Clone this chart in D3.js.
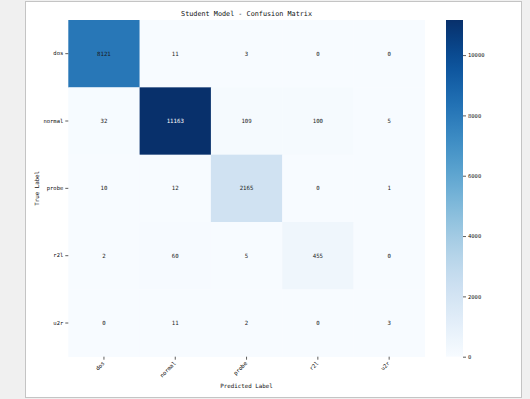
<!DOCTYPE html>
<html>
<head>
<meta charset="utf-8">
<script src="https://cdn.jsdelivr.net/npm/d3@7"></script>
<style>
  html, body { margin: 0; padding: 0; background: #f0f0f0; }
  svg { display: block; }
  text { font-family: "DejaVu Sans Mono", "Liberation Mono", monospace; fill: #111; }
  .axis path { display: none; }
  .axis line { stroke: #333; stroke-width: 0.8; }
  .axis text { font-size: 5.5px; fill: #111; }
  .annot { font-size: 5.7px; }
  .title { font-size: 6.8px; }
  .axis-label { font-size: 5.8px; }
</style>
</head>
<body>
<svg width="530" height="399"></svg>
<script>
const classes = ['dos', 'normal', 'probe', 'r2l', 'u2r']
    , matrix =
        [ [8121, 11, 3, 0, 0]
        , [32, 11163, 109, 100, 5]
        , [10, 12, 2165, 0, 1]
        , [2, 60, 5, 455, 0]
        , [0, 11, 2, 0, 3]
        ]
    , colorTicks = [0, 2000, 4000, 6000, 8000, 10000]
    , titleText = 'Student Model - Confusion Matrix'
    , xLabelText = 'Predicted Label'
    , yLabelText = 'True Label'

const plotLeft = 68.3
    , plotRight = 424.8
    , plotTop = 20
    , plotBottom = 356.7
    , barLeft = 446
    , barWidth = 17
    , maxValue = d3.max(matrix.flat())
    , scaleX = d3.scaleBand().domain(classes).range([plotLeft, plotRight])
    , scaleY = d3.scaleBand().domain(classes).range([plotTop, plotBottom])
    , color = d3.scaleSequential(d3.interpolateBlues).domain([0, maxValue])
    , scaleBar = d3.scaleLinear().domain([0, maxValue]).range([plotBottom, plotTop])
    , svg = d3.select('svg')

// figure frame
svg.append('rect')
    .attr('x', 25.5).attr('y', 1.5)
    .attr('width', 496).attr('height', 396)
    .attr('fill', '#fff')
    .attr('stroke', '#c4c4c4')
    .attr('stroke-width', 1)

const cells = matrix.flatMap((row, i) =>
    row.map((v, j) => ({ t: classes[i], p: classes[j], v })))

svg.selectAll('rect.cell')
    .data(cells)
    .join('rect')
    .attr('class', 'cell')
    .attr('x', d => scaleX(d.p))
    .attr('y', d => scaleY(d.t))
    .attr('width', scaleX.bandwidth() + 0.3)
    .attr('height', scaleY.bandwidth() + 0.3)
    .attr('fill', d => color(d.v))

const isDark = v => {
    const c = d3.rgb(color(v))
    const lum = (0.2126 * c.r + 0.7152 * c.g + 0.0722 * c.b) / 255
    return lum < 0.408
}

svg.selectAll('text.annot')
    .data(cells)
    .join('text')
    .attr('class', 'annot')
    .attr('x', d => scaleX(d.p) + scaleX.bandwidth() / 2)
    .attr('y', d => scaleY(d.t) + scaleY.bandwidth() / 2)
    .attr('text-anchor', 'middle')
    .attr('dy', '0.35em')
    .style('fill', d => isDark(d.v) ? '#fff' : '#1a1a1a')
    .text(d => d.v)

// axes
svg.append('g')
    .attr('class', 'axis')
    .attr('transform', `translate(${[plotLeft, 0]})`)
    .call(d3.axisLeft(scaleY).tickSize(3).tickPadding(2))

const xAxis = svg.append('g')
    .attr('class', 'axis')
    .attr('transform', `translate(${[0, plotBottom]})`)
    .call(d3.axisBottom(scaleX).tickSize(3).tickPadding(2))

xAxis.selectAll('text')
    .attr('text-anchor', 'end')
    .attr('dy', null)
    .attr('y', 0)
    .attr('transform', 'translate(1,7) rotate(-45)')

svg.append('text')
    .attr('class', 'title')
    .attr('x', (plotLeft + plotRight) / 2)
    .attr('y', 14)
    .attr('dy', '0.35em')
    .attr('text-anchor', 'middle')
    .text(titleText)

svg.append('text')
    .attr('class', 'axis-label')
    .attr('x', (plotLeft + plotRight) / 2)
    .attr('y', 386)
    .attr('dy', '0.35em')
    .attr('text-anchor', 'middle')
    .text(xLabelText)

svg.append('text')
    .attr('class', 'axis-label')
    .attr('text-anchor', 'middle')
    .attr('dy', '0.35em')
    .attr('transform', `translate(${[37, (plotTop + plotBottom) / 2]}) rotate(-90)`)
    .text(yLabelText)

// colorbar
const grad = svg.append('defs').append('linearGradient')
    .attr('id', 'bar-grad')
    .attr('x1', 0).attr('y1', 1).attr('x2', 0).attr('y2', 0)
grad.selectAll('stop')
    .data(d3.range(0, 1.0001, 0.05))
    .join('stop')
    .attr('offset', d => d)
    .attr('stop-color', d => color(d * maxValue))

svg.append('rect')
    .attr('x', barLeft)
    .attr('y', plotTop)
    .attr('width', barWidth)
    .attr('height', plotBottom - plotTop)
    .attr('fill', 'url(#bar-grad)')

svg.append('g')
    .attr('class', 'axis')
    .attr('transform', `translate(${[barLeft + barWidth, 0]})`)
    .call(d3.axisRight(scaleBar).tickValues(colorTicks).tickFormat(d3.format('d')).tickSize(3).tickPadding(2))
</script>
</body>
</html>
